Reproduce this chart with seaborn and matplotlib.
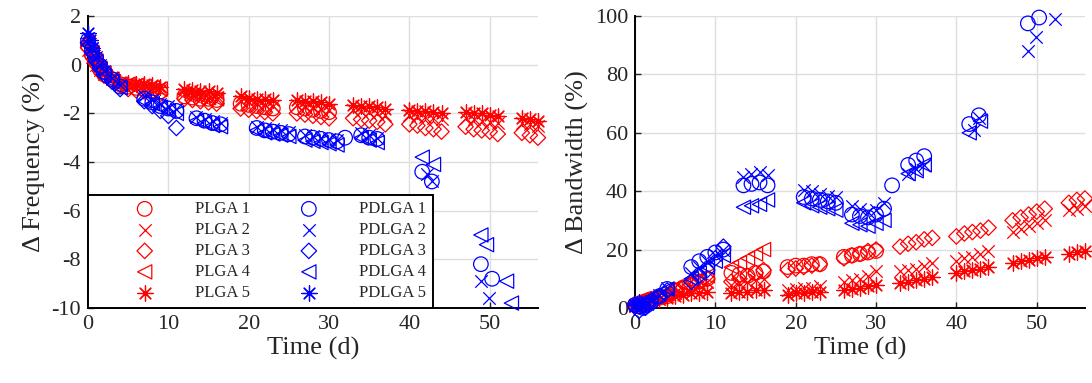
import numpy as np
import pandas as pd
import matplotlib
matplotlib.use("Agg")
import matplotlib.pyplot as plt
import seaborn as sns

nan = np.nan

# ---- datos (tiempo en dias, variaciones en %) ----
# PLGA (rojo)
t_plga1 = [0, 0.5, 1, 1.5, 2, 3, 4, 5, 6, 7, 8, 9, 12, 13, 14, 15, 16,
           19, 20, 21, 22, 23, 26, 27, 28, 29, 30]
freq_plga1 = [0.8, 0.4, 0.1, -0.2, -0.4, -0.6, -0.8, -0.9, -0.95, -1.0, -1.05, -1.1,
              -1.3, -1.35, -1.4, -1.4, -1.45, -1.6, -1.65, -1.7, -1.75, -1.8,
              -1.75, -1.8, -1.85, -1.9, -1.95]
bw_plga1 = [1, 1.5, 2, 2.5, 3, 3.5, 4, 6, 7, 8, 9, 10, 12, 11.5, 11, 12, 12.5,
            14, 14.5, 14.5, 15, 15, 17.5, 18, 18.5, 19, 19.5]

t_plga2 = [0, 0.5, 1, 1.5, 2, 3, 4, 5, 6, 7, 8, 9, 12, 13, 14, 15, 16,
           19, 20, 21, 22, 23, 26, 27, 28, 29, 30, 33, 34, 35, 36, 37,
           40, 41, 42, 43, 44, 47, 48, 49, 50, 51, 54, 55, 56]
freq_plga2 = [0.6, 0.3, 0.0, -0.2, -0.4, -0.6, -0.8, -0.85, -0.9, -0.95, -1.0, -1.05,
              -1.2, -1.25, -1.3, -1.35, -1.4, -1.5, -1.55, -1.6, -1.65, -1.7,
              -1.65, -1.7, -1.75, -1.8, -1.85, -1.85, -1.9, -1.95, -2.0, -2.05,
              -2.05, -2.1, -2.15, -2.2, -2.25, -2.2, -2.25, -2.3, -2.35, -2.4,
              -2.4, -2.45, -2.5]
bw_plga2 = [0.5, 1, 1.5, 2, 2.5, 3, 4, 5, 6, 7, 8, 9, 8, 8.5, 9, 9.5, 10,
            6, 6.5, 7, 7, 7.5, 9, 9.5, 10, 11, 12.5, 12.5, 13, 13.5, 14.5, 15.5,
            16, 17, 17.5, 18.5, 19.5, 26, 27, 28, 29, 30, 33.5, 34, 35]

t_plga3 = t_plga2
freq_plga3 = [0.7, 0.35, 0.05, -0.25, -0.45, -0.65, -0.85, -1.0, -1.05, -1.1, -1.15, -1.2,
              -1.4, -1.45, -1.5, -1.55, -1.6, -1.8, -1.85, -1.9, -1.95, -2.0,
              -2.0, -2.05, -2.1, -2.15, -2.2, -2.2, -2.25, -2.3, -2.35, -2.45,
              -2.45, -2.5, -2.6, -2.65, -2.75, -2.55, -2.65, -2.7, -2.75, -2.85,
              -2.8, -2.9, -3.0]
bw_plga3 = [1, 1.5, 2, 2.5, 3, 3.5, 4.5, 6, 7, 8, 9, 10, 9, 10, 11, 12, 13,
            13, 13.5, 14, 14.5, 15, 17, 18, 18.5, 19.5, 20, 21, 22, 22.5, 23.5, 24,
            24.5, 25.5, 26, 26.5, 27.5, 30, 31, 32, 33, 34, 36, 37, 37.5]

t_plga4 = [0, 0.5, 1, 1.5, 2, 3, 4, 5, 6, 7, 8, 9, 12, 13, 14, 15, 16]
freq_plga4 = [0.9, 0.5, 0.15, -0.15, -0.35, -0.6, -0.8, -0.8, -0.85, -0.9, -0.95, -1.0,
              -1.2, -1.25, -1.3, -1.35, -1.4]
bw_plga4 = [1, 2, 2.5, 3, 3.5, 4, 5, 7, 8, 9, 10, 11, 14, 15.5, 17, 18.5, 20]

t_plga5 = t_plga2
freq_plga5 = [1.1, 0.6, 0.25, -0.05, -0.3, -0.5, -0.7, -0.75, -0.8, -0.8, -0.85, -0.9,
              -1.0, -1.05, -1.1, -1.1, -1.15, -1.3, -1.35, -1.4, -1.4, -1.45,
              -1.45, -1.5, -1.5, -1.55, -1.6, -1.65, -1.7, -1.7, -1.75, -1.8,
              -1.85, -1.9, -1.9, -1.95, -2.0, -1.95, -2.0, -2.0, -2.05, -2.1,
              -2.2, -2.25, -2.3]
bw_plga5 = [0.5, 1, 1.5, 2, 2.5, 3, 3.5, 4, 4.5, 5, 5, 5.5, 5, 5.5, 5.5, 6, 6,
            4.5, 5, 5, 5.5, 5.5, 6, 6.5, 7, 7.5, 8, 8.5, 9, 9.5, 10, 10.5,
            12, 12.5, 13, 13.5, 14, 15.5, 16, 16.5, 17, 17.5, 18.5, 19, 19.5]

# PDLGA (azul)
t_pdlga1 = [0, 0.5, 1, 1.5, 2, 3, 4, 7, 8, 9, 10, 11, 13.5, 14.5, 15.5, 16.5,
            21, 22, 23, 24, 25, 27, 28, 29, 30, 31, 32, 34, 35, 36, 41.6, 42.8, 48.9, 50.3]
freq_pdlga1 = [1.0, 0.6, 0.25, -0.05, -0.3, -0.6, -0.9, -1.4, -1.55, -1.7, -1.8, -1.9,
               -2.2, -2.3, -2.4, -2.45, -2.6, -2.7, -2.75, -2.8, -2.85,
               -2.95, -3.0, -3.05, -3.1, -3.15, -3.0, -2.9, -3.0, -3.05,
               -4.4, -4.8, -8.2, -8.8]
bw_pdlga1 = [1, 0.5, 0, 1, 2, 4, 6.5, 14, 16, 17.5, 19, 20, 42, 42.5, 43, 42,
             38, 37.5, 37, 36.5, 36, 32, 31.5, 31, 32, 34, 42, 49, 50.5, 52,
             63, 66, 97.5, 99.5]

t_pdlga2 = [0, 0.5, 1, 1.5, 2, 3, 4, 7, 8, 9, 10, 11, 13.5, 14.5, 15.5, 16.5,
            21, 22, 23, 24, 25, 27, 28, 29, 30, 31, 34, 35, 36, 42.2, 42.8, 48.9, 49.9, 52.3]
freq_pdlga2 = [1.1, 0.7, 0.3, 0.0, -0.25, -0.55, -0.85, -1.3, -1.45, -1.6, -1.7, -1.8,
               -2.15, -2.25, -2.3, -2.4, -2.55, -2.6, -2.65, -2.7, -2.75,
               -2.9, -2.95, -3.0, -3.05, -3.1, -2.8, -2.9, -3.0,
               -4.5, -4.8, -8.9, -9.6, nan]
bw_pdlga2 = [1, -0.5, 0.5, 1.5, 2.5, 4.5, 7, 12, 14, 16, 18, 20, 45, 46, 46.5, 45.5,
             40.5, 40, 39, 38.5, 38, 35, 34, 33, 33.5, 36, 46, 47.5, 49,
             61, 65, 88, 93, 99]

t_pdlga3 = [0, 0.5, 1, 1.5, 2, 3, 4, 7, 8, 9, 10, 11]
freq_pdlga3 = [0.9, 0.5, 0.15, -0.15, -0.4, -0.7, -1.0, -1.5, -1.7, -1.9, -2.1, -2.6]
bw_pdlga3 = [0.5, -1, 1, 1.5, 2.5, 4, 6, 9, 11, 13, 17, 21]

t_pdlga4 = [0, 0.5, 1, 1.5, 2, 3, 4, 7, 8, 9, 10, 11, 13.5, 14.5, 15.5, 16.5,
            21, 22, 23, 24, 25, 27, 28, 29, 30, 31, 34, 35, 36, 41.6, 43.0,
            48.9, 49.6, 52.1, 52.7]
freq_pdlga4 = [0.8, 0.45, 0.1, -0.2, -0.45, -0.7, -0.95, -1.5, -1.6, -1.75, -1.9, -2.0,
               -2.3, -2.4, -2.5, -2.55, -2.7, -2.8, -2.85, -2.9, -2.95,
               -3.1, -3.15, -3.2, -3.25, -3.3, -3.0, -3.1, -3.2,
               -3.8, -4.1, -7.0, -7.4, -8.9, -9.8]
bw_pdlga4 = [1.5, 0, 1.5, 2, 3.5, 5, 6.5, 10, 12, 14, 16, 18, 34.5, 35, 35.5, 37,
             36, 35, 34.5, 34, 33.5, 29, 28.5, 28, 29, 30, 46, 47, 49,
             60, 64, nan, nan, nan, nan]

t_pdlga5 = [0, 0.25, 0.5]
freq_pdlga5 = [1.3, 1.0, 0.7]
bw_pdlga5 = [1, 1.5, 2]

series = [
    ("PLGA 1", t_plga1, freq_plga1, bw_plga1),
    ("PLGA 2", t_plga2, freq_plga2, bw_plga2),
    ("PLGA 3", t_plga3, freq_plga3, bw_plga3),
    ("PLGA 4", t_plga4, freq_plga4, bw_plga4),
    ("PLGA 5", t_plga5, freq_plga5, bw_plga5),
    ("PDLGA 1", t_pdlga1, freq_pdlga1, bw_pdlga1),
    ("PDLGA 2", t_pdlga2, freq_pdlga2, bw_pdlga2),
    ("PDLGA 3", t_pdlga3, freq_pdlga3, bw_pdlga3),
    ("PDLGA 4", t_pdlga4, freq_pdlga4, bw_pdlga4),
    ("PDLGA 5", t_pdlga5, freq_pdlga5, bw_pdlga5),
]

# estilo de cada muestra: (marcador, tamano)
MARKERS = {1: ("o", 110), 2: ("x", 80), 3: ("D", 62), 4: ("<", 105), 5: ((8, 2, 0), 120)}

sns.set_style("whitegrid", {"grid.color": "#dedede", "axes.edgecolor": "black"})
plt.rcParams["font.family"] = ["Liberation Serif", "DejaVu Serif"]
plt.rcParams["axes.unicode_minus"] = False

fig = plt.figure(figsize=(10.92, 3.83), dpi=100)
ax_f = fig.add_axes([0.0806, 0.196, 0.412, 0.762])
ax_b = fig.add_axes([0.5815, 0.196, 0.412, 0.762])

for name, t, f, b in series:
    color = "red" if name.startswith("PLGA") else "blue"
    marker, size = MARKERS[int(name.split()[-1])]
    df = pd.DataFrame({"t": t, "freq": f, "bw": b})
    filled = matplotlib.markers.MarkerStyle(marker).is_filled()
    kws = dict(marker=marker, s=size, linewidth=0.9, clip_on=False, zorder=3)
    if filled:
        kws.update(color=color, facecolor="none", edgecolor=color)
    else:
        kws.update(color=color)
    sns.scatterplot(data=df.dropna(subset=["freq"]), x="t", y="freq", ax=ax_f, label=name, **kws)
    sns.scatterplot(data=df.dropna(subset=["bw"]), x="t", y="bw", ax=ax_b, **kws)

for ax in (ax_f, ax_b):
    ax.set_xlim(0, 56)
    ax.set_xticks(range(0, 51, 10))
    ax.set_xlabel("Time (d)", fontsize=19, labelpad=2)
    ax.tick_params(labelsize=16, direction="in", length=4, width=1, pad=5,
                   left=True, bottom=True)
    for side in ("top", "right"):
        ax.spines[side].set_visible(False)
    for side in ("left", "bottom"):
        ax.spines[side].set_linewidth(1.4)
    ax.grid(True, linewidth=1)

ax_f.set_ylim(-10, 2)
ax_f.set_yticks(range(-10, 3, 2))
ax_f.set_ylabel("Δ Frequency (%)", fontsize=19, labelpad=4)

ax_b.set_ylim(0, 100)
ax_b.set_yticks(range(0, 101, 20))
ax_b.set_ylabel("Δ Bandwidth (%)", fontsize=19, labelpad=4)
if ax_b.get_legend():
    ax_b.get_legend().remove()

# leyenda en dos columnas (PLGA | PDLGA)
handles, labels = ax_f.get_legend_handles_labels()
leg = ax_f.legend(handles, labels, ncol=2, loc="lower left", bbox_to_anchor=(0, 0),
                  borderaxespad=0, fontsize=12, frameon=True, fancybox=False,
                  framealpha=1, edgecolor="black", borderpad=0.4, labelspacing=0.3,
                  handlelength=6.0, handletextpad=0.0, columnspacing=0.55)
leg.get_frame().set_linewidth(1.4)
leg.set_zorder(5)

fig.savefig("out.png", dpi=100)
